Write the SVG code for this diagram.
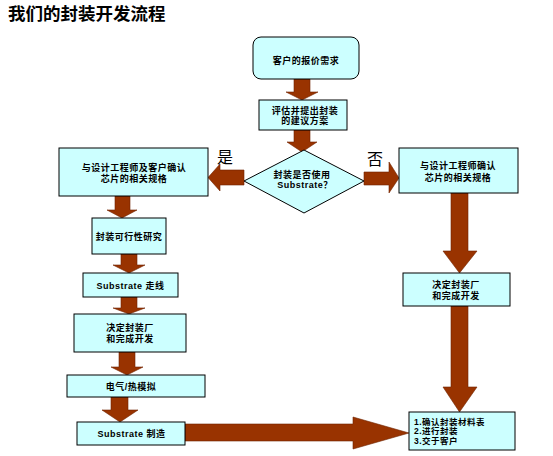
<svg xmlns="http://www.w3.org/2000/svg" width="553" height="456" viewBox="0 0 553 456">
<style>
.bx{fill:#ccffff;stroke:#000;stroke-width:1}
.ar{fill:#993300;stroke:#6e2400;stroke-width:0.6}
.t{font-family:"Liberation Sans","Noto Sans CJK SC",sans-serif;font-size:9px;font-weight:bold;fill:#000;letter-spacing:0.5px}
.c{text-anchor:middle}
.yn{font-family:"Liberation Sans","Noto Sans CJK SC",sans-serif;font-size:16px;fill:#000}
</style>
<rect width="553" height="456" fill="#fff"/>
<text x="8" y="20" style="font-family:'Liberation Sans','Noto Sans CJK SC',sans-serif;font-size:17.5px;font-weight:bold">我们的封装开发流程</text>
<g id="connectors">
<polygon class="ar" points="294,79 310,79 310,92 318,92 302,100 286,92 294,92"/>
<polygon class="ar" points="294,130 310,130 310,142 317,142 302,152 287,142 294,142"/>
<polygon class="ar" points="244,170 220,170 220,164 208,177.5 220,191 220,185 244,185"/>
<polygon class="ar" points="364,172 389,172 389,162 399,178 389,193 389,185 364,185"/>
<polygon class="ar" points="115,196 130,196 130,210 137,210 122,218 107,210 115,210"/>
<polygon class="ar" points="121,254 137,254 137,265 145,265 129,273 113,265 121,265"/>
<polygon class="ar" points="121,297 137,297 137,308 145,308 129,314 113,308 121,308"/>
<polygon class="ar" points="119,352 135,352 135,367 143,367 127,375 111,367 119,367"/>
<polygon class="ar" points="111,397 128,397 128,410 138,410 120,422 102,410 111,410"/>
<polygon class="ar" points="451,193 468,193 468,251 477,251 459.5,273 443,251 451,251"/>
<polygon class="ar" points="451,306 468,306 468,387 477,387 459.5,412 443,387 451,387"/>
<polygon class="ar" points="185,424 353,424 353,417 409,433 353,449 353,441 185,441"/>
</g>
<text class="yn" x="217" y="163">是</text>
<text class="yn" x="367" y="165">否</text>
<g id="n1"><rect class="bx" x="253" y="37" width="106" height="42" rx="8"/><text class="t c" x="306" y="63.5">客户的报价需求</text></g>
<g id="n2"><rect class="bx" x="259" y="100" width="88" height="30"/><text class="t c" x="305" y="113.5">评估并提出封装<tspan x="305" dy="10.3">的建议方案</tspan></text></g>
<g id="n3"><polygon class="bx" points="304,150 364,181 304,213 244,181"/><text class="t c" x="302" y="177.5">封装是否使用<tspan x="305" dy="10.3">Substrate？</tspan></text></g>
<g id="n4"><rect class="bx" x="59" y="148" width="149" height="48"/><text class="t c" x="134" y="170.5">与设计工程师及客户确认<tspan x="134" dy="11">芯片的相关规格</tspan></text></g>
<g id="n5"><rect class="bx" x="399" y="148" width="119" height="45"/><text class="t c" x="458" y="168.5">与设计工程师确认<tspan x="458" dy="12">芯片的相关规格</tspan></text></g>
<g id="n6"><rect class="bx" x="92" y="218" width="74" height="36"/><text class="t c" x="129" y="239.5">封装可行性研究</text></g>
<g id="n7"><rect class="bx" x="83" y="273" width="95" height="24"/><text class="t c" x="130.5" y="288.5">Substrate 走线</text></g>
<g id="n8"><rect class="bx" x="74" y="314" width="112" height="38"/><text class="t c" x="130" y="330.5">决定封装厂<tspan x="130" dy="11">和完成开发</tspan></text></g>
<g id="n9"><rect class="bx" x="67" y="375" width="138" height="22"/><text class="t c" x="131" y="389.5">电气/热模拟</text></g>
<g id="n10"><rect class="bx" x="77" y="422" width="108" height="23"/><text class="t c" x="131.5" y="436.5">Substrate 制造</text></g>
<g id="n11"><rect class="bx" x="403" y="273" width="107" height="33"/><text class="t c" x="456" y="287.5">决定封装厂<tspan x="456" dy="11">和完成开发</tspan></text></g>
<g id="n12"><rect class="bx" x="409" y="412" width="106" height="38"/><text class="t" style="font-size:8.5px" x="414" y="424.5">1.确认封装材料表<tspan x="414" dy="9.7">2.进行封装</tspan><tspan x="414" dy="9.7">3.交于客户</tspan></text></g>
</svg>
